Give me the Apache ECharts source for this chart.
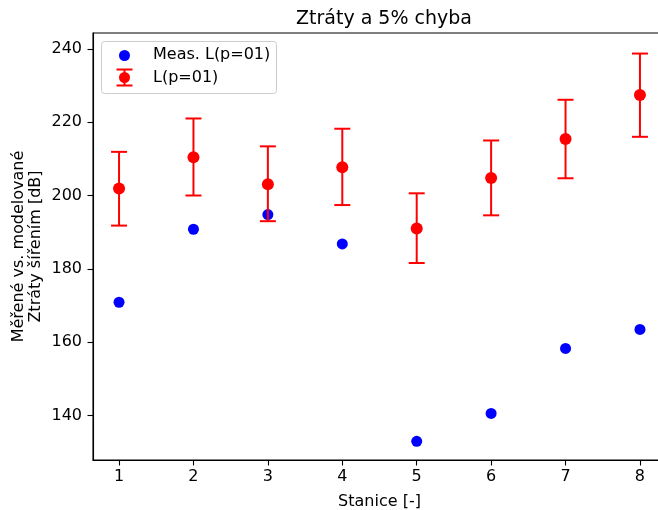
<!DOCTYPE html>
<html><head><meta charset="utf-8">
<script src="https://cdn.jsdelivr.net/npm/echarts@6/dist/echarts.min.js"></script>
<style>html,body{margin:0;padding:0;background:#fff}#c{width:658px;height:510px}</style>
</head><body><div id="c"></div>
<script>
const stations = [1, 2, 3, 4, 5, 6, 7, 8];
const measured = [170.9, 190.8, 194.8, 186.8, 133.0, 140.6, 158.3, 163.5];
const modelled = [201.9, 210.4, 203.1, 207.7, 191.0, 204.8, 215.4, 227.4];
const errLow = [191.8, 200.0, 193.0, 197.4, 181.6, 194.6, 204.7, 216.0];
const errHigh = [211.9, 221.0, 213.4, 218.2, 200.6, 215.0, 226.1, 238.7];
const xTicks = [1, 2, 3, 4, 5, 6, 7, 8];
const yTicks = [140, 160, 180, 200, 220, 240];

const FONT = 'DejaVu Sans';
const chart = echarts.init(document.getElementById('c'), null, {renderer: 'canvas'});

const errData = stations.map((s, i) => [s, errLow[i], errHigh[i]]);

chart.setOption({
  animation: false,
  backgroundColor: '#fff',
  textStyle: {fontFamily: FONT},
  title: {
    text: 'Ztráty a 5% chyba',
    left: 379, top: 5, textAlign: 'center',
    textStyle: {fontFamily: FONT, fontSize: 19, fontWeight: 'normal', color: '#000'}
  },
  grid: {left: 93, top: 33, right: -8, bottom: 50, containLabel: false, outerBoundsMode: 'none',
         show: true, borderColor: '#000', borderWidth: 1.1, backgroundColor: 'transparent'},
  xAxis: {
    type: 'value', min: 0.65, max: 8.35,
    name: 'Stanice [-]', nameLocation: 'middle', nameGap: 34, nameMoveOverlap: false,
    nameTextStyle: {fontFamily: FONT, fontSize: 16, color: '#000'},
    axisLine: {show: true, lineStyle: {color: '#000', width: 1.1}},
    axisTick: {show: true, inside: false, length: 5.5, lineStyle: {color: '#000', width: 1.1}, customValues: xTicks},
    axisLabel: {show: true, margin: 9, fontFamily: FONT, fontSize: 16, color: '#000', customValues: xTicks},
    splitLine: {show: false}
  },
  yAxis: {
    type: 'value', min: 127.9, max: 244.3,
    name: 'Měřené vs. modelované\nZtráty šířením [dB]', nameLocation: 'middle', nameGap: 48, nameRotate: 90,
    nameMoveOverlap: false,
    nameTextStyle: {fontFamily: FONT, fontSize: 16, color: '#000', lineHeight: 17.5},
    axisLine: {show: true, lineStyle: {color: '#000', width: 1.1}},
    axisTick: {show: true, inside: false, length: 5.5, lineStyle: {color: '#000', width: 1.1}, customValues: yTicks},
    axisLabel: {show: true, margin: 11, fontFamily: FONT, fontSize: 16, color: '#000', customValues: yTicks},
    splitLine: {show: false}
  },
  series: [
    {
      name: 'Meas. L(p=01)', type: 'scatter', symbol: 'circle', symbolSize: 11,
      itemStyle: {color: '#0000ff', opacity: 1},
      data: stations.map((s, i) => [s, measured[i]]), z: 3
    },
    {
      name: 'err', type: 'custom',
      data: errData,
      renderItem: function (params, api) {
        const x = api.value(0);
        const lo = api.coord([x, api.value(1)]);
        const hi = api.coord([x, api.value(2)]);
        const hw = 8;
        const st = {stroke: '#ff0000', lineWidth: 2};
        return {type: 'group', children: [
          {type: 'line', shape: {x1: lo[0], y1: lo[1], x2: hi[0], y2: hi[1]}, style: st},
          {type: 'line', shape: {x1: lo[0]-hw, y1: lo[1], x2: lo[0]+hw, y2: lo[1]}, style: st},
          {type: 'line', shape: {x1: hi[0]-hw, y1: hi[1], x2: hi[0]+hw, y2: hi[1]}, style: st}
        ]};
      },
      z: 4
    },
    {
      name: 'L(p=01)', type: 'scatter', symbol: 'circle', symbolSize: 12,
      itemStyle: {color: '#ff0000', opacity: 1},
      data: stations.map((s, i) => [s, modelled[i]]), z: 5
    }
  ],
  graphic: [
    {type: 'rect', shape: {x: 101.5, y: 41.5, width: 175, height: 52, r: 3}, style: {fill: 'rgba(255,255,255,0.8)', stroke: '#cccccc', lineWidth: 1}, z: 10},
    {type: 'circle', shape: {cx: 124.5, cy: 55.5, r: 5.5}, style: {fill: '#0000ff'}, z: 11},
    {type: 'text', x: 153, y: 55, style: {text: 'Meas. L(p=01)', font: '16px "DejaVu Sans"', fill: '#000', textVerticalAlign: 'middle'}, z: 11},
    {type: 'line', shape: {x1: 124.5, y1: 69.5, x2: 124.5, y2: 85.5}, style: {stroke: '#ff0000', lineWidth: 2}, z: 11},
    {type: 'line', shape: {x1: 116.5, y1: 69.5, x2: 132.5, y2: 69.5}, style: {stroke: '#ff0000', lineWidth: 2}, z: 11},
    {type: 'line', shape: {x1: 116.5, y1: 85.5, x2: 132.5, y2: 85.5}, style: {stroke: '#ff0000', lineWidth: 2}, z: 11},
    {type: 'circle', shape: {cx: 124.5, cy: 77.5, r: 5.5}, style: {fill: '#ff0000'}, z: 12},
    {type: 'text', x: 153, y: 78, style: {text: 'L(p=01)', font: '16px "DejaVu Sans"', fill: '#000', textVerticalAlign: 'middle'}, z: 11}
  ]
});
</script></body></html>
